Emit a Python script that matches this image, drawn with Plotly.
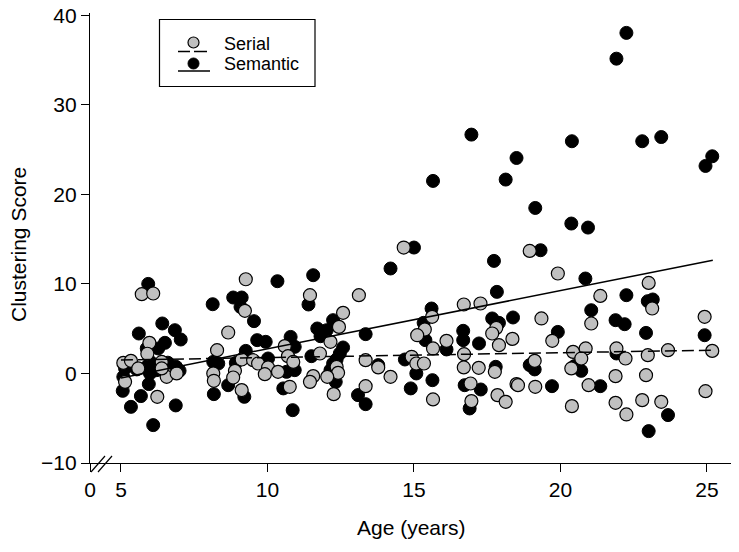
import plotly.graph_objects as go

# ---------------- data ----------------
serial_age = [5.71, 6.10, 5.97, 5.08, 5.34, 5.14, 6.39, 6.56, 6.90, 6.24, 6.39, 5.59, 5.90,
              9.26, 9.23, 8.66, 8.28, 10.59, 10.70, 9.12, 9.51, 9.68, 10.88, 10.02, 10.36, 9.91,
              8.15, 8.89, 8.83, 8.17, 10.76, 9.12, 11.45,
              13.12, 12.58, 12.44, 12.15, 11.79, 12.36, 12.41, 12.04, 13.35, 13.78, 14.20, 11.56,
              11.45, 13.35, 12.26, 14.92, 15.08,
              14.65, 16.70, 17.27, 15.62, 15.37, 17.81, 17.67, 15.11, 18.36, 16.11, 17.90, 15.65,
              16.71, 15.34, 16.70, 17.21, 17.76, 18.50, 16.93, 15.65, 16.96, 17.85, 18.13,
              18.95, 19.91, 21.36, 19.35, 21.05, 19.72, 20.43, 20.86, 20.71, 21.91, 22.22, 19.12,
              20.37, 18.55, 19.14, 20.96, 21.88, 21.88, 22.25, 20.39,
              23.01, 23.13, 24.92, 22.98, 23.67, 25.18, 22.92, 24.95, 22.79, 23.44]
serial_score = [8.85, 8.93, 3.42, 1.18, 1.41, -0.94, 1.29, -0.38, 0.00, -2.61, 0.56, 0.56, 2.20,
                10.52, 6.99, 4.57, 2.60, 3.05, 1.93, 1.56, 1.48, 1.11, 1.29, 0.67, 0.18, -0.08,
                0.00, 0.29, -0.45, -0.82, -1.49, -1.86, 8.74,
                8.74, 6.77, 5.20, 3.53, 2.23, 0.74, 0.07, -0.38, 1.48, 0.67, -0.38, -0.30,
                -0.94, -1.42, -2.31, 1.86, 1.11,
                14.06, 7.70, 7.81, 6.32, 4.91, 5.09, 4.46, 4.27, 3.86, 3.64, 3.16, 2.79,
                2.15, 1.11, 0.67, 0.63, 0.18, -1.19, -1.12, -2.90, -3.09, -2.42, -3.17,
                13.68, 11.16, 8.66, 6.14, 5.58, 3.64, 2.41, 2.79, 1.67, 2.79, 1.67, 1.41,
                0.56, -1.31, -1.49, -1.31, -0.30, -3.28, -4.58, -3.65,
                10.11, 7.25, 6.32, 2.04, 2.60, 2.52, -0.19, -1.98, -2.98, -3.17]

semantic_age = [5.93, 6.41, 5.61, 6.84, 7.04, 6.50, 5.88, 6.27, 5.14, 5.08, 5.06, 5.54, 5.88,
                5.99, 6.22, 6.88, 5.95, 5.68, 5.34, 6.87, 6.10, 6.00, 6.60, 7.00,
                10.34, 8.83, 9.12, 8.13, 9.08, 9.54, 9.65, 9.94, 10.79, 10.93, 9.26, 10.02, 8.15,
                8.32, 8.92, 10.93, 10.65, 8.66, 10.54, 9.21, 8.17, 10.86, 11.40,
                11.56, 14.20, 12.24, 11.70, 12.02, 11.81, 13.35, 12.58, 12.47, 12.36, 12.24, 11.50,
                12.15, 13.78, 12.33, 13.09, 13.35, 14.89, 14.69, 15.08,
                16.96, 18.50, 15.65, 18.13, 15.00, 17.73, 17.83, 15.60, 15.33, 17.67, 17.90, 18.38,
                15.39, 16.68, 16.68, 17.22, 16.11, 17.79, 15.63, 16.73, 17.28, 16.90,
                22.25, 21.91, 20.39, 19.14, 20.37, 20.94, 19.32, 20.85, 22.25, 21.05, 21.88, 22.19,
                19.91, 21.91, 18.95, 19.12, 20.48, 20.71, 19.71, 21.36,
                22.79, 23.44, 25.18, 24.95, 22.98, 23.15, 22.92, 24.92, 23.67, 23.01]
semantic_score = [10.00, 5.58, 4.46, 4.83, 3.79, 3.42, 2.79, 2.79, 0.56, -0.38, -1.94, 0.45, 0.74,
                  0.00, 0.37, 0.74, -1.19, -2.53, -3.73, -3.57, -5.77, 1.30, 1.20, 0.30,
                  10.30, 8.48, 8.48, 7.73, 7.43, 5.84, 3.72, 3.53, 4.08, 2.97, 2.52, 1.67, 1.29,
                  1.11, 1.18, 0.37, 0.18, -1.31, -1.67, -2.61, -2.31, -4.10, 7.70,
                  10.97, 11.72, 5.95, 5.02, 4.83, 4.16, 4.39, 2.90, 2.23, 1.56, 1.11, 1.93,
                  0.37, 0.93, -0.94, -2.42, -3.43, -1.67, 1.56, 0.00,
                  26.67, 24.06, 21.50, 21.65, 14.06, 12.57, 9.11, 7.25, 5.65, 6.14, 5.65, 6.25,
                  3.72, 4.76, 3.72, 3.35, 2.68, 0.74, -0.75, -1.31, -1.79, -3.91,
                  38.03, 35.15, 25.93, 18.48, 16.74, 16.29, 13.76, 10.60, 8.74, 7.06, 5.95, 5.50,
                  4.64, 2.23, 0.93, 0.45, 0.82, 0.29, -1.42, -1.42,
                  25.93, 26.40, 24.25, 23.17, 8.07, 8.26, 4.53, 4.27, -4.65, -6.44]

# regression lines (end values)
fit_age = [5.0, 25.2]
serial_fit = [1.5, 2.6]
semantic_fit = [-0.5, 12.63]

x_ticks = [3.943, 5, 10, 15, 20, 25]
x_ticktext = ["0", "5", "10", "15", "20", "25"]
y_ticks = [-10, 0, 10, 20, 30, 40]

FONT = "Liberation Sans, Arial, sans-serif"
GRAY = "#c0c0c0"

# page body margin is removed below; plot area on screen is x 90..731, y 13..463
W, H = 739, 552
L, T, R, B = 90, 13, 8, 89
PW, PH = W - L - R, H - T - B

fig = go.Figure()
fig.add_trace(go.Scatter(x=semantic_age, y=semantic_score, mode="markers", name="Semantic",
                         marker=dict(size=13, color="black", line=dict(color="black", width=1)),
                         showlegend=False))
fig.add_trace(go.Scatter(x=serial_age, y=serial_score, mode="markers", name="Serial",
                         marker=dict(size=13, color=GRAY, line=dict(color="black", width=1.2)),
                         showlegend=False))
fig.add_trace(go.Scatter(x=fit_age, y=serial_fit, mode="lines",
                         line=dict(color="black", width=1.5, dash="12px,5px"), showlegend=False))
fig.add_trace(go.Scatter(x=fit_age, y=semantic_fit, mode="lines",
                         line=dict(color="black", width=1.5), showlegend=False))

shapes = []
# axis break marks
for dx in (0, 7):
    shapes.append(dict(type="line", xref="x", yref="paper", xsizemode="pixel", ysizemode="pixel",
                       xanchor=x_ticks[0], yanchor=0, x0=1 + dx, y0=-9, x1=15 + dx, y1=7,
                       line=dict(color="black", width=1.2)))


# legend drawn manually (screen pixel positions -> offsets from plot top-left)
def px(x0, x1, y0, y1, **kw):
    d = dict(xref="paper", yref="paper", xsizemode="pixel", ysizemode="pixel",
             xanchor=0, yanchor=1, x0=x0 - L, x1=x1 - L, y0=T - y0, y1=T - y1)
    d.update(kw)
    return d


shapes.append(px(159.5, 315, 19.5, 86.5, type="rect", line=dict(color="black", width=1.2),
                 fillcolor="white", layer="above"))
shapes.append(px(188, 199, 37, 48, type="circle", fillcolor=GRAY, line=dict(color="black", width=1.2),
                 layer="above"))
shapes.append(px(178, 190, 51.5, 51.5, type="line", line=dict(color="black", width=1.5), layer="above"))
shapes.append(px(194, 207, 51.5, 51.5, type="line", line=dict(color="black", width=1.5), layer="above"))
shapes.append(px(188, 199, 58, 69, type="circle", fillcolor="black", line=dict(color="black", width=1),
                 layer="above"))
shapes.append(px(178, 210, 71, 71, type="line", line=dict(color="black", width=1.5), layer="above"))


def pxx(p):
    return (p - L) / PW


def pxy(p):
    return 1 - (p - T) / PH


annotations = [
    dict(text="Serial", xref="paper", yref="paper", x=pxx(222), y=pxy(43.5),
         xanchor="left", yanchor="middle", showarrow=False, font=dict(size=18, color="black", family=FONT)),
    dict(text="Semantic", xref="paper", yref="paper", x=pxx(222), y=pxy(63.5),
         xanchor="left", yanchor="middle", showarrow=False, font=dict(size=18, color="black", family=FONT)),
    dict(text="Age (years)", xref="paper", yref="paper", x=pxx(412), y=pxy(527),
         xanchor="center", yanchor="middle", showarrow=False, font=dict(size=21, color="black", family=FONT)),
    dict(text="Clustering Score", xref="paper", yref="paper", x=pxx(18), y=pxy(245), textangle=-90,
         xanchor="center", yanchor="middle", showarrow=False, font=dict(size=21, color="black", family=FONT)),
]

fig.update_layout(
    width=W, height=H,
    margin=dict(l=L, r=R, t=T, b=B),
    paper_bgcolor="white", plot_bgcolor="white",
    font=dict(family=FONT, size=21, color="black"),
    shapes=shapes, annotations=annotations,
    showlegend=False,
    xaxis=dict(range=[3.943, 25.82], tickvals=x_ticks, ticktext=x_ticktext, automargin=False,
               ticklabeloverflow="allow",
               showline=True, linecolor="black", linewidth=1.2, ticks="outside", ticklen=8,
               tickcolor="black", tickwidth=1.2, showgrid=False, zeroline=False),
    yaxis=dict(range=[-10, 40.25], tickvals=y_ticks, automargin=False,
               ticklabeloverflow="allow",
               showline=True, linecolor="black", linewidth=1.2, ticks="outside", ticklen=8,
               tickcolor="black", tickwidth=1.2, showgrid=False, zeroline=False),
)

fig.write_html("out.html", config={"displayModeBar": False},
               post_script="document.body.style.margin='0';document.body.style.overflow='hidden';")
